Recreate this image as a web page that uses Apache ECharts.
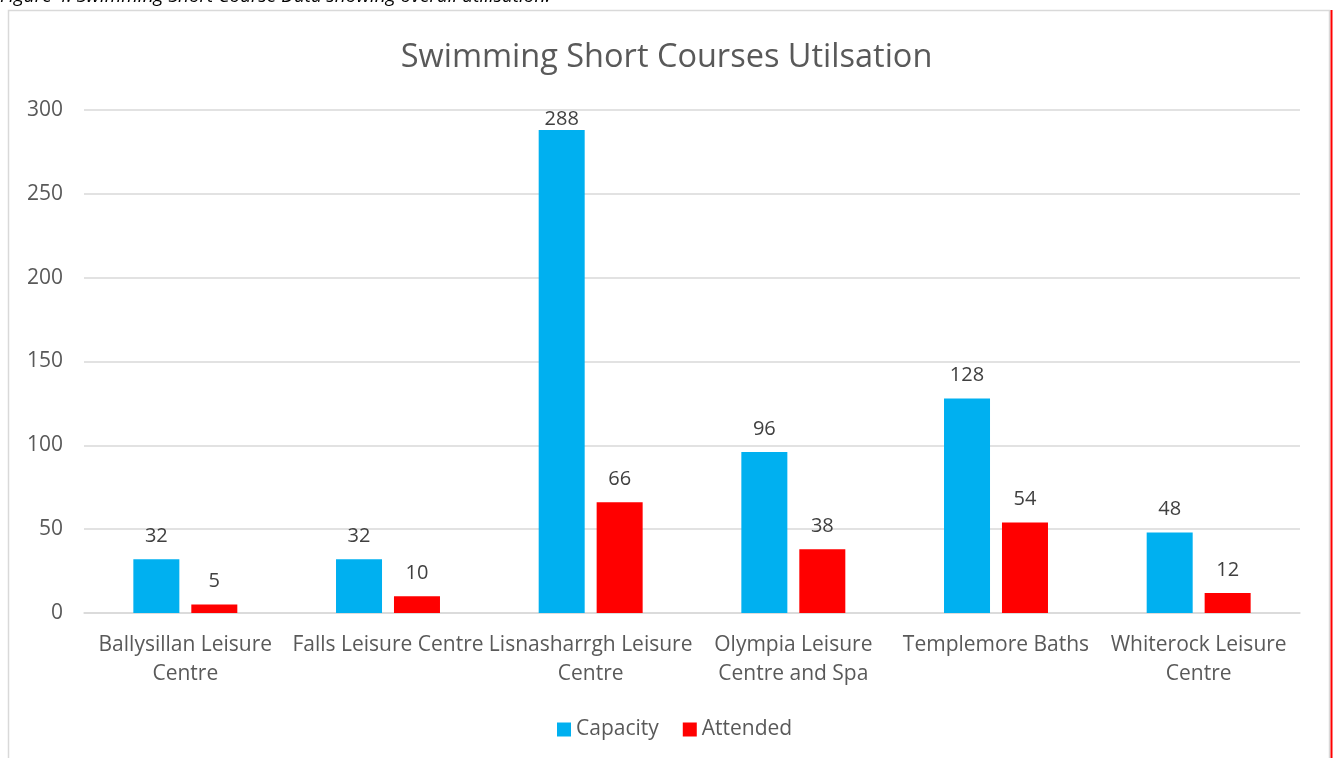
<!DOCTYPE html>
<html><head><meta charset="utf-8">
<script src="https://cdn.jsdelivr.net/npm/echarts@6/dist/echarts.min.js"></script>
<style>html,body{margin:0;padding:0;background:#fff;}#c{width:1333px;height:758px;}</style>
</head><body><div id="c"></div>
<script>
const categories = ["Ballysillan Leisure\nCentre","Falls Leisure Centre","Lisnasharrgh Leisure\nCentre","Olympia Leisure\nCentre and Spa","Templemore Baths","Whiterock Leisure\nCentre"];
const capacity = [32, 32, 288, 96, 128, 48];
const attended = [5, 10, 66, 38, 54, 12];
const yTicks = {min: 0, max: 300, interval: 50};
const FONT = "'Open Sans', sans-serif";
// labels that would overflow the plot top are pulled down onto the bar (as in Excel)
const toItems = arr => arr.map(v => (v > yTicks.max - 20 ? {value: v, label: {distance: 1}} : v));
const chart = echarts.init(document.getElementById('c'));
const lbl = {show: true, position: 'top', distance: 13, fontFamily: FONT, fontSize: 20, color: '#404040'};
chart.setOption({
  animation: false,
  title: {text: "Swimming Short Courses Utilsation", left: 'center', top: 36,
    textStyle: {fontFamily: FONT, fontSize: 32.5, fontWeight: 'normal', color: '#595959'}},
  graphic: [
    {type: 'rect', shape: {x: 8.5, y: 10.5, width: 1321, height: 760}, style: {fill: 'none', stroke: '#d9d9d9', lineWidth: 1.5}, silent: true},
    {type: 'line', shape: {x1: 1331.5, y1: 10, x2: 1331.5, y2: 758}, style: {stroke: '#ff0000', lineWidth: 2}, silent: true},
    {type: 'text', left: 0, top: -13, style: {text: "Figure 4: Swimming Short Course Data showing overall utilisation.", font: "italic 19px " + FONT, fill: '#000'}}
  ],
  legend: {bottom: 13, left: 552, itemWidth: 14, itemHeight: 14, itemGap: 24, icon: 'rect',
    textStyle: {fontFamily: FONT, fontSize: 21, color: '#595959'}},
  grid: {left: 84, right: 33, top: 110, bottom: 145, containLabel: false},
  xAxis: {type: 'category', data: categories,
    axisLine: {lineStyle: {color: '#d9d9d9', width: 1.5}}, axisTick: {show: false},
    axisLabel: {fontFamily: FONT, fontSize: 21, color: '#595959', margin: 18, lineHeight: 29, interval: 0}},
  yAxis: {type: 'value', min: yTicks.min, max: yTicks.max, interval: yTicks.interval,
    axisLine: {show: false}, axisTick: {show: false},
    splitLine: {lineStyle: {color: '#d9d9d9', width: 1.5}},
    axisLabel: {fontFamily: FONT, fontSize: 21, color: '#595959', margin: 21}},
  series: [
    {name: 'Capacity', type: 'bar', data: toItems(capacity), barWidth: '22.7%', barGap: '26%',
     itemStyle: {color: '#00b0f0'}, label: lbl},
    {name: 'Attended', type: 'bar', data: toItems(attended), barWidth: '22.7%',
     itemStyle: {color: '#ff0000'}, label: lbl}
  ]
});
</script></body></html>
